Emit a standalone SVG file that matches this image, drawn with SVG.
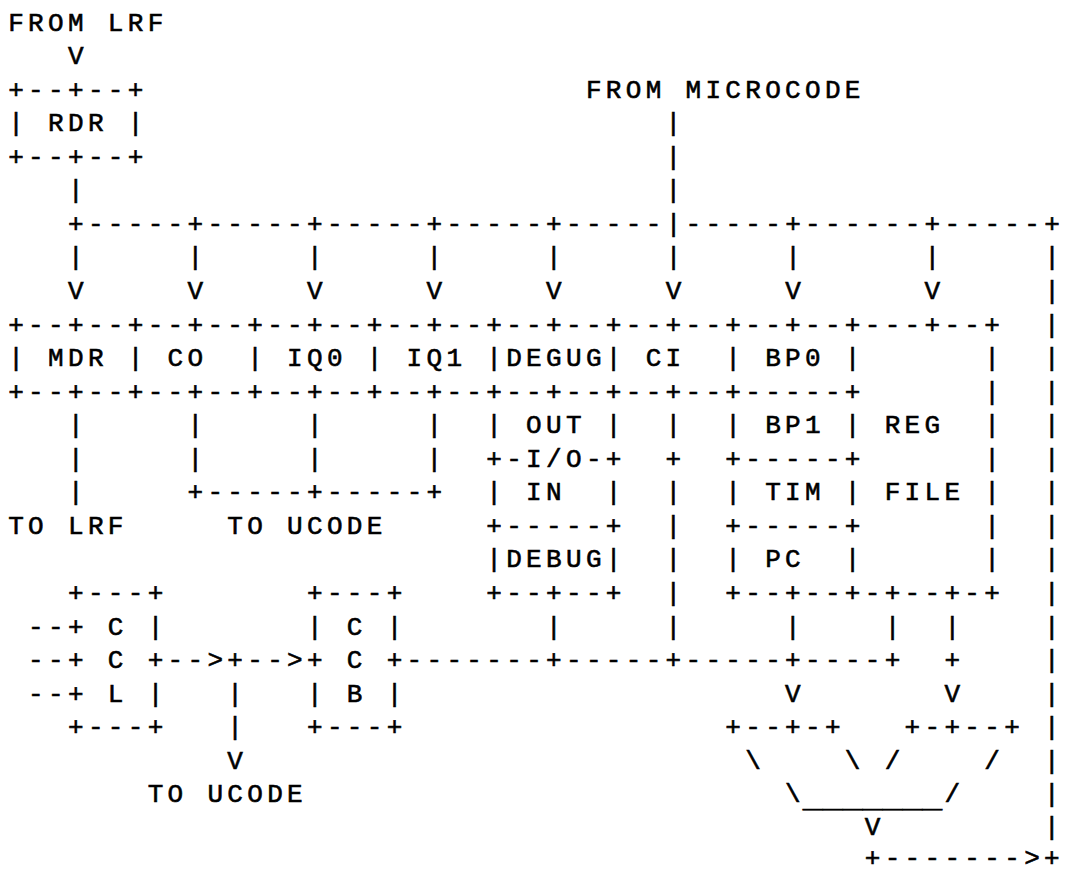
<svg xmlns="http://www.w3.org/2000/svg" width="1068" height="875" viewBox="0 0 1068 875" xml:space="preserve">
<style>
text { font-family: "Liberation Mono", "DejaVu Sans Mono", monospace; font-size: 26px; letter-spacing: 4.32px; white-space: pre; fill: #000; stroke: #000; stroke-width: 0.6px; }
text.ul { letter-spacing: 0; }
</style>
<rect width="1068" height="875" fill="#fff"/>

<g id="labels">
<text x="8.2" y="30.6">FROM LRF</text>
<text x="585.88" y="97.7">FROM MICROCODE</text>
<text x="8.2" y="533.85">TO LRF</text>
<text x="227.32" y="533.85">TO UCODE</text>
<text x="147.64" y="802.25">TO UCODE</text>
</g>

<g id="node-rdr">
<text x="8.2" y="97.7">+--+--+</text>
<text x="8.2" y="131.25">| RDR |</text>
<text x="8.2" y="164.8">+--+--+</text>
</g>

<g id="node-mdr">
<text x="8.2" y="332.55">+--+--+</text>
<text x="8.2" y="366.1">| MDR |</text>
<text x="8.2" y="399.65">+--+--+</text>
</g>

<g id="node-co">
<text x="147.64" y="332.55">--+--+</text>
<text x="147.64" y="366.1"> CO  |</text>
<text x="147.64" y="399.65">--+--+</text>
</g>

<g id="node-iq0">
<text x="267.16" y="332.55">--+--+</text>
<text x="267.16" y="366.1"> IQ0 |</text>
<text x="267.16" y="399.65">--+--+</text>
</g>

<g id="node-iq1">
<text x="386.68" y="332.55">--+--+</text>
<text x="386.68" y="366.1"> IQ1 |</text>
<text x="386.68" y="399.65">--+--+</text>
</g>

<g id="node-degug">
<text x="506.2" y="332.55">--+--+</text>
<text x="506.2" y="366.1">DEGUG|</text>
<text x="506.2" y="399.65">--+--+</text>
</g>

<g id="node-ci">
<text x="625.72" y="332.55">--+--+</text>
<text x="625.72" y="366.1"> CI  |</text>
<text x="625.72" y="399.65">--+--+</text>
</g>

<g id="node-bp0">
<text x="745.24" y="332.55">--+--+</text>
<text x="745.24" y="366.1"> BP0 |</text>
<text x="745.24" y="399.65">-----+</text>
</g>

<g id="node-regfile">
<text x="864.76" y="332.55">---+--+</text>
<text x="984.28" y="366.1">|</text>
<text x="984.28" y="399.65">|</text>
<text x="864.76" y="433.2"> REG  |</text>
<text x="984.28" y="466.75">|</text>
<text x="864.76" y="500.3"> FILE |</text>
<text x="984.28" y="533.85">|</text>
<text x="984.28" y="567.4">|</text>
<text x="864.76" y="600.95">-+--+-+</text>
</g>

<g id="node-io">
<text x="486.28" y="433.2">| OUT |</text>
<text x="486.28" y="466.75">+-I/O-+</text>
<text x="486.28" y="500.3">| IN  |</text>
</g>

<g id="node-debug">
<text x="486.28" y="533.85">+-----+</text>
<text x="486.28" y="567.4">|DEBUG|</text>
<text x="486.28" y="600.95">+--+--+</text>
</g>

<g id="node-bp1">
<text x="725.32" y="433.2">| BP1 |</text>
<text x="725.32" y="466.75">+-----+</text>
</g>

<g id="node-tim">
<text x="725.32" y="500.3">| TIM |</text>
<text x="725.32" y="533.85">+-----+</text>
</g>

<g id="node-pc">
<text x="725.32" y="567.4">| PC  |</text>
<text x="725.32" y="600.95">+--+--+</text>
</g>

<g id="node-ccl">
<text x="67.96" y="600.95">+---+</text>
<text x="67.96" y="634.5">+ C |</text>
<text x="67.96" y="668.05">+ C +</text>
<text x="67.96" y="701.6">+ L |</text>
<text x="67.96" y="735.15">+---+</text>
</g>

<g id="node-ccb">
<text x="307" y="600.95">+---+</text>
<text x="307" y="634.5">| C |</text>
<text x="307" y="668.05">+ C +</text>
<text x="307" y="701.6">| B |</text>
<text x="307" y="735.15">+---+</text>
</g>

<g id="node-alu">
<text x="725.32" y="735.15">+--+-+</text>
<text x="904.6" y="735.15">+-+--+</text>
<text x="745.24" y="768.7">\</text>
<text x="844.84" y="768.7">\ /</text>
<text x="984.28" y="768.7">/</text>
<text x="785.08" y="802.25">\</text>
<text class="ul" x="802.8" y="807.25" textLength="139.5" lengthAdjust="spacingAndGlyphs">_______</text>
<text x="944.44" y="802.25">/</text>
</g>

<g id="connectors">
<text x="67.96" y="64.15">V</text>
<text x="665.56" y="131.25">|</text>
<text x="665.56" y="164.8">|</text>
<text x="67.96" y="198.35">|</text>
<text x="665.56" y="198.35">|</text>
<text x="67.96" y="231.9">+-----+-----+-----+-----+-----|-----+------+-----+</text>
<text x="67.96" y="265.45">|     |     |     |     |     |     |      |     |</text>
<text x="67.96" y="299">V     V     V     V     V     V     V      V     |</text>
<text>
<tspan x="1044.04" y="332.55">|</tspan>
<tspan x="1044.04" y="366.1">|</tspan>
<tspan x="1044.04" y="399.65">|</tspan>
<tspan x="1044.04" y="433.2">|</tspan>
<tspan x="1044.04" y="466.75">|</tspan>
<tspan x="1044.04" y="500.3">|</tspan>
<tspan x="1044.04" y="533.85">|</tspan>
<tspan x="1044.04" y="567.4">|</tspan>
<tspan x="1044.04" y="600.95">|</tspan>
<tspan x="1044.04" y="634.5">|</tspan>
<tspan x="1044.04" y="668.05">|</tspan>
<tspan x="1044.04" y="701.6">|</tspan>
<tspan x="1044.04" y="735.15">|</tspan>
<tspan x="1044.04" y="768.7">|</tspan>
<tspan x="1044.04" y="802.25">|</tspan>
<tspan x="1044.04" y="834.8">|</tspan>
</text>
<text x="67.96" y="433.2">|     |     |     |</text>
<text x="665.56" y="433.2">|</text>
<text x="67.96" y="466.75">|     |     |     |</text>
<text x="665.56" y="466.75">+</text>
<text x="67.96" y="500.3">|     +-----+-----+</text>
<text x="665.56" y="500.3">|</text>
<text x="665.56" y="533.85">|</text>
<text x="665.56" y="567.4">|</text>
<text x="665.56" y="600.95">|</text>
<text x="28.12" y="634.5">--</text>
<text x="546.04" y="634.5">|     |     |    |  |</text>
<text x="28.12" y="668.05">--</text>
<text x="167.56" y="668.05">--&gt;+--&gt;</text>
<text x="406.6" y="668.05">-------+-----+-----+----+</text>
<text x="944.44" y="668.05">+</text>
<text x="28.12" y="701.6">--</text>
<text x="227.32" y="701.6">|</text>
<text x="785.08" y="701.6">V       V</text>
<text x="227.32" y="735.15">|</text>
<text x="227.32" y="768.7">V</text>
<text x="864.76" y="834.8">V</text>
<text x="864.76" y="865.5">+-------&gt;+</text>
</g>
</svg>
